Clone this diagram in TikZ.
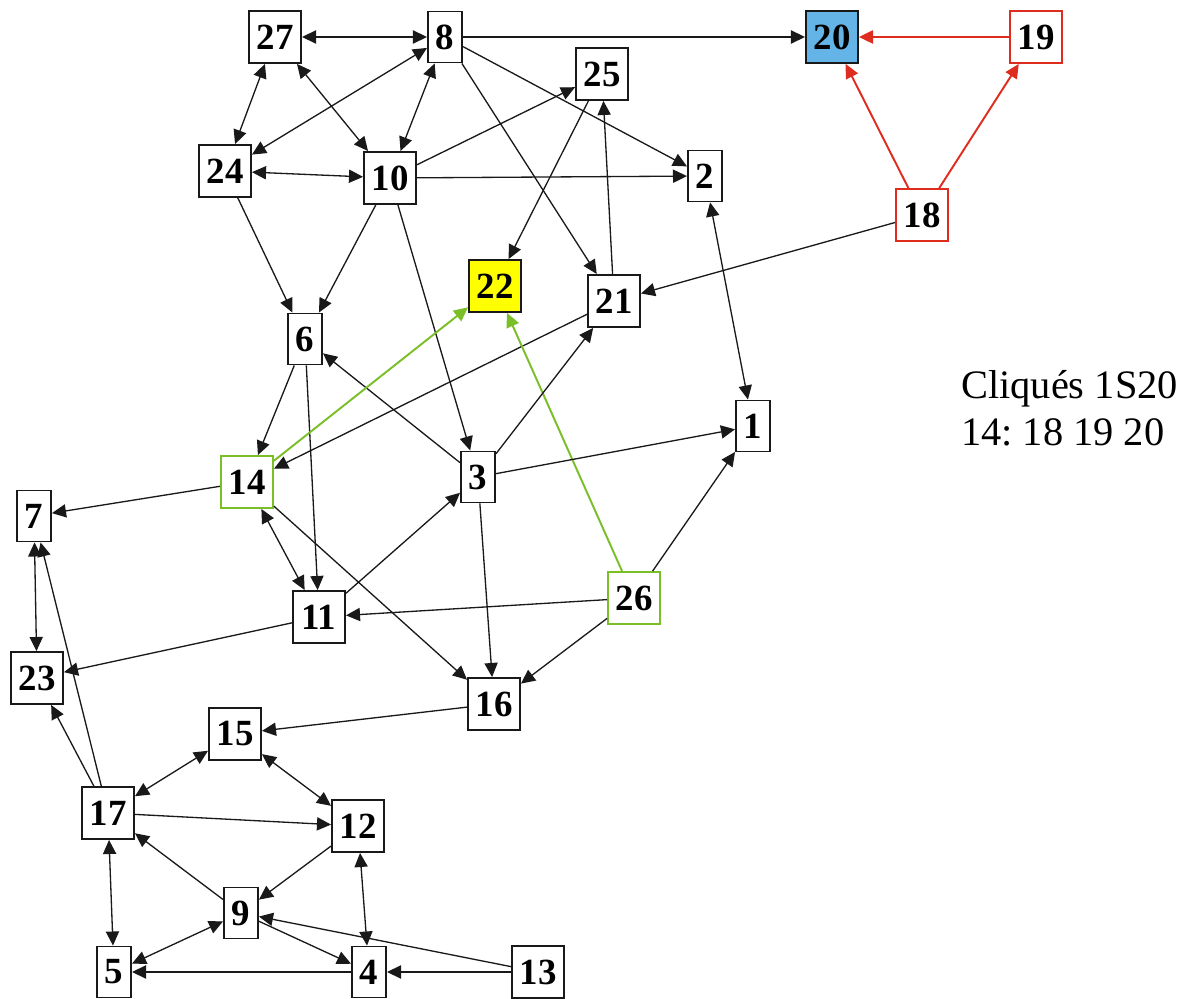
\documentclass[tikz,border=0pt]{standalone}
\usepackage{fontspec}
\setmainfont{Liberation Serif}
\usetikzlibrary{arrows.meta}
\definecolor{gr}{RGB}{122,190,40}
\definecolor{rd}{RGB}{222,45,30}
\definecolor{bl}{RGB}{100,180,232}
\definecolor{yl}{RGB}{255,255,0}
\tikzset{
  tip/.tip={Triangle[length=8pt,width=7.5pt]},
  wbox/.style={draw=black!90, line width=1.1pt, fill=white, minimum width=1.04cm, minimum height=1.04cm, inner sep=0pt, font=\fontsize{21}{21}\selectfont\bfseries},
  nbox/.style={wbox, minimum width=0.68cm, minimum height=1.02cm},
  edge/.style={draw=black!90, line width=0.75pt, -tip},
  dedge/.style={edge, tip-tip},
  gedge/.style={edge, draw=gr, line width=1.1pt},
  redge/.style={edge, draw=rd, line width=1.1pt},
}
\begin{document}
\frenchspacing
\begin{tikzpicture}[x=0.02cm,y=-0.02cm]
\useasboundingbox (0,0) rectangle (1197,999);
\node[wbox] (n27) at (275,37) {27};
\node[nbox] (n8) at (445,37) {8};
\node[wbox, fill=bl] (n20) at (832,37) {20};
\node[wbox, draw=rd] (n19) at (1036,37) {19};
\node[wbox] (n25) at (602,74) {25};
\node[wbox] (n24) at (225,171) {24};
\node[wbox] (n10) at (390,178) {10};
\node[nbox] (n2) at (705,176) {2};
\node[wbox, draw=rd] (n18) at (922,215) {18};
\node[wbox, fill=yl] (n22) at (495,286) {22};
\node[wbox] (n21) at (614,301) {21};
\node[nbox] (n6) at (305,339) {6};
\node[nbox] (n1) at (753,426) {1};
\node[wbox, draw=gr] (n14) at (247,482) {14};
\node[nbox] (n3) at (478,477) {3};
\node[nbox] (n7) at (34,516) {7};
\node[wbox, draw=gr] (n26) at (634,598) {26};
\node[wbox] (n11) at (319,617) {11};
\node[wbox] (n23) at (37,678) {23};
\node[wbox] (n16) at (494,704) {16};
\node[wbox] (n15) at (235,734) {15};
\node[wbox] (n17) at (108,813) {17};
\node[wbox] (n12) at (358,826) {12};
\node[nbox] (n9) at (241,913) {9};
\node[nbox] (n5) at (114,972) {5};
\node[nbox] (n4) at (369,972) {4};
\node[wbox] (n13) at (538,972) {13};
\node[anchor=west, align=left, font=\fontsize{23}{27}\selectfont] (txt) at (955,408) {Cliqués 1S20\\14: 18 19 20};
% edges
\draw[dedge] (n27) -- (n8);
\draw[edge] (n8) -- (n20);
\draw[redge] (n19) -- (n20);
\draw[redge] (n18) -- (n20);
\draw[redge] (n18) -- (n19);
\draw[dedge] (n27) -- (n24);
\draw[dedge] (n27) -- (n10);
\draw[dedge] (n8) -- (n24);
\draw[dedge] (n8) -- (n10);
\draw[edge] (n8) -- (n2);
\draw[edge] (n8) -- (n21);
\draw[dedge] (n24) -- (n10);
\draw[edge] (n10) -- (n25);
\draw[edge] (n10) -- (n2);
\draw[edge] (n10) -- (n6);
\draw[edge] (n10) -- (n3);
\draw[edge] (n24) -- (n6);
\draw[edge] (n25) -- (n22);
\draw[edge] (n21) -- (n25);
\draw[edge] (n18) -- (n21);
\draw[dedge] (n2) -- (n1);
\draw[edge] (n6) -- (n14);
\draw[edge] (n3) -- (n6);
\draw[edge] (n6) -- (n11);
\draw[edge] (n21) -- (n14);
\draw[gedge] (n14) -- (n22);
\draw[gedge] (n26) -- (n22);
\draw[edge] (n14) -- (n7);
\draw[dedge] (n14) -- (n11);
\draw[edge] (n14) -- (n16);
\draw[edge] (n3) -- (n21);
\draw[edge] (n3) -- (n1);
\draw[edge] (n3) -- (n16);
\draw[edge] (n11) -- (n3);
\draw[edge] (n26) -- (n1);
\draw[edge] (n26) -- (n11);
\draw[edge] (n26) -- (n16);
\draw[edge] (n11) -- (n23);
\draw[dedge] (n7) -- (n23);
\draw[edge] (n17) -- (n7);
\draw[edge] (n17) -- (n23);
\draw[edge] (n16) -- (n15);
\draw[dedge] (n15) -- (n17);
\draw[dedge] (n15) -- (n12);
\draw[edge] (n17) -- (n12);
\draw[dedge] (n17) -- (n5);
\draw[edge] (n9) -- (n17);
\draw[edge] (n12) -- (n9);
\draw[dedge] (n12) -- (n4);
\draw[dedge] (n9) -- (n5);
\draw[edge] (n9) -- (n4);
\draw[edge] (n13) -- (n9);
\draw[edge] (n13) -- (n4);
\draw[edge] (n4) -- (n5);
\end{tikzpicture}
\end{document}
